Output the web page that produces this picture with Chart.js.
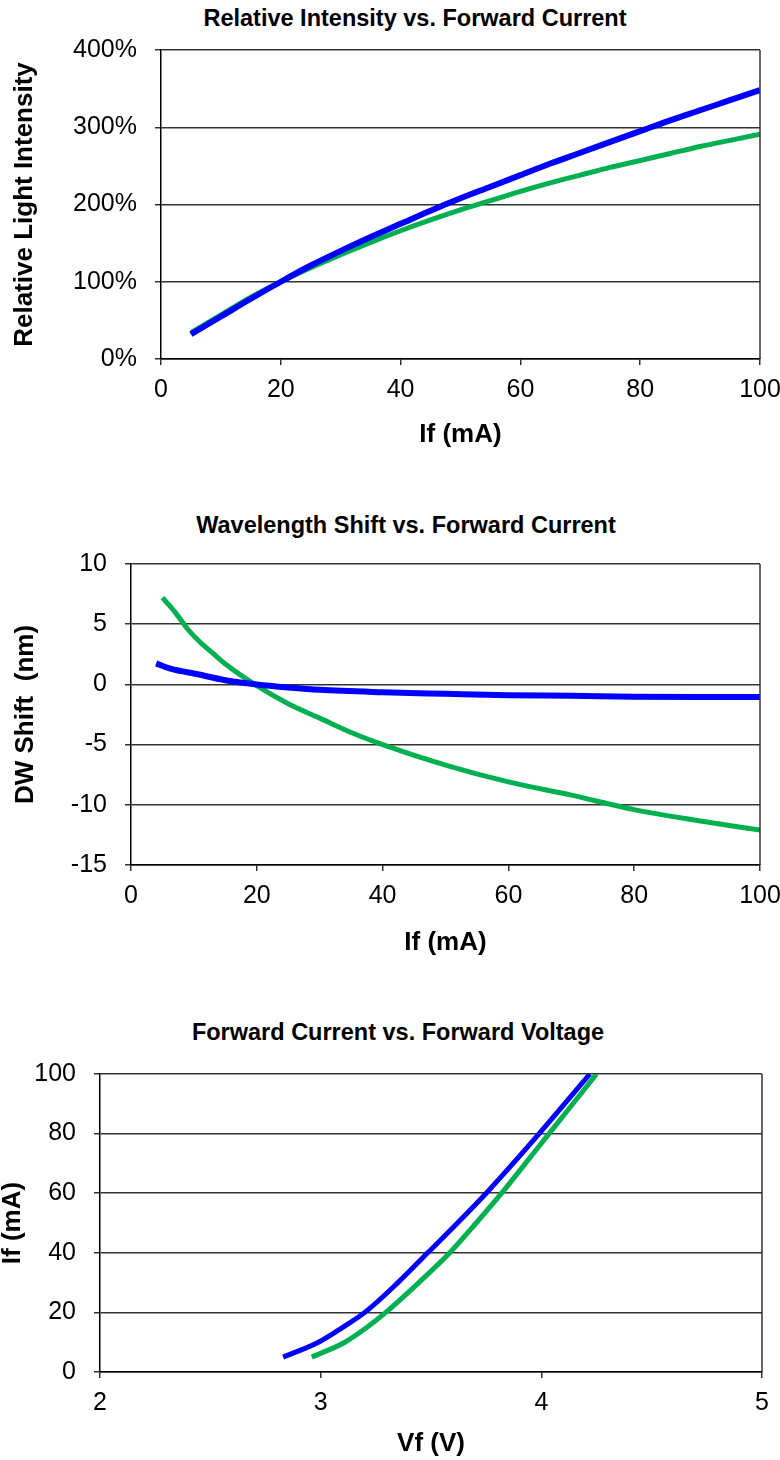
<!DOCTYPE html>
<html>
<head>
<meta charset="utf-8">
<script src="https://cdn.jsdelivr.net/npm/chart.js@4.4.1/dist/chart.umd.min.js"></script>
<style>
  body { margin: 0; background: #fff; width: 780px; height: 1460px; position: relative; overflow: hidden; font-family: 'Liberation Sans', Arial, sans-serif; }
  canvas { position: absolute; left: 0; }
  .ttl { position: absolute; font-weight: bold; font-size: 23.5px; white-space: nowrap; transform: translate(-50%, -50%); color: #000; }
</style>
</head>
<body>
<div class="ttl" style="left:415px; top:18px;">Relative Intensity vs. Forward Current</div>
<div class="ttl" style="left:406px; top:525px;">Wavelength Shift vs. Forward Current</div>
<div class="ttl" style="left:398px; top:1032px;">Forward Current vs. Forward Voltage</div>
<canvas id="c1" width="780" height="490" style="top:0px"></canvas>
<canvas id="c2" width="780" height="500" style="top:490px"></canvas>
<canvas id="c3" width="780" height="470" style="top:990px"></canvas>
<script>
/* global Chart */

// chart 1: relative intensity (%) vs If (mA)
const intensityCurrent = [5, 10, 15, 20, 25, 30, 35, 40, 45, 50, 55, 60, 65, 70, 75, 80, 85, 90, 95, 100];
const intensityBlue = [32, 55, 78, 100, 121, 140, 158, 175, 192, 208, 223, 238, 253, 267, 281, 295, 309, 322, 335, 348];
const intensityGreen = [34, 57, 80, 100, 118, 135, 151, 166, 180, 193, 205, 217, 228, 238, 248, 257, 266, 275, 283, 291];
const intensityTicks = [0, 100, 200, 300, 400];

// chart 2: DW shift (nm) vs If (mA)
const shiftCurrentBlue = [4, 6, 8, 10, 15, 20, 25, 30, 40, 50, 60, 70, 80, 90, 100];
const shiftBlue = [1.75, 1.35, 1.1, 0.9, 0.35, 0, -0.25, -0.45, -0.65, -0.78, -0.9, -0.95, -1.02, -1.05, -1.05];
const shiftCurrentGreen = [5, 7, 9, 11, 13, 15, 20, 25, 30, 35, 40, 50, 60, 70, 80, 90, 100];
const shiftGreen = [7.2, 6.0, 4.6, 3.5, 2.6, 1.7, -0.1, -1.6, -2.8, -4.0, -5.0, -6.7, -8.1, -9.2, -10.4, -11.3, -12.1];

// chart 3: If (mA) vs Vf (V)
const ivCurrent = [5, 10, 15, 20, 30, 40, 50, 60, 70, 80, 90, 100];
const ivVoltBlue = [2.83, 2.99, 3.10, 3.20, 3.35, 3.485, 3.62, 3.75, 3.872, 3.99, 4.105, 4.22];
const ivVoltGreen = [2.96, 3.11, 3.21, 3.295, 3.445, 3.585, 3.705, 3.82, 3.928, 4.035, 4.143, 4.25];

const BLUE = '#0000ff';
const GREEN = '#00b050';
const GRID = '#333333';
const FONT = "'Liberation Sans', Arial, sans-serif";

Chart.defaults.color = '#000';
Chart.defaults.font.family = FONT;

function pts(xs, ys) {
  return xs.map((x, i) => ({ x: x, y: ys[i] }));
}

// right edge of plot frame
const frameRight = {
  id: 'frameRight',
  afterDraw(chart) {
    const a = chart.chartArea;
    const ctx = chart.ctx;
    ctx.save();
    ctx.strokeStyle = GRID;
    ctx.lineWidth = 1.5;
    ctx.beginPath();
    ctx.moveTo(a.right, a.top);
    ctx.lineTo(a.right, a.bottom);
    ctx.stroke();
    ctx.restore();
  },
};

function makeChart(id, opt) {
  return new Chart(document.getElementById(id), {
    type: 'scatter',
    data: {
      datasets: [
        { data: opt.green, borderColor: GREEN, borderWidth: 5, showLine: true, pointRadius: 0, cubicInterpolationMode: 'monotone', order: 2 },
        { data: opt.blue, borderColor: BLUE, borderWidth: opt.blueWidth, showLine: true, pointRadius: 0, cubicInterpolationMode: 'monotone', order: 1 },
      ],
    },
    options: {
      responsive: false,
      animation: false,
      layout: { padding: { top: opt.top, right: opt.right, left: 0, bottom: 0 } },
      plugins: { legend: { display: false }, tooltip: { enabled: false } },
      scales: {
        x: {
          type: 'linear',
          min: opt.xMin,
          max: opt.xMax,
          ticks: { stepSize: opt.xStep, font: { size: 25 }, padding: 10, maxRotation: 0 },
          grid: { drawOnChartArea: false, drawTicks: true, tickLength: 6, color: GRID, lineWidth: 1.5 },
          border: { color: '#000', width: 1.5 },
          title: { display: true, text: opt.xTitle, font: { size: 26, weight: 'bold', lineHeight: 1 }, padding: { bottom: opt.xTitlePad, top: 0 } },
          afterFit(s) { s.height = opt.xHeight; s.paddingLeft = 0; s.paddingRight = 0; },
        },
        y: {
          type: 'linear',
          min: opt.yMin,
          max: opt.yMax,
          ticks: { stepSize: opt.yStep, font: { size: 25 }, padding: 18, callback: opt.yFmt },
          grid: { drawTicks: true, tickLength: 6, color: GRID, lineWidth: 1.5 },
          border: { color: '#000', width: 1.5 },
          title: { display: true, text: opt.yTitle, font: { size: 26, weight: 'bold', lineHeight: 1 }, padding: { top: opt.yTitlePad, bottom: 0 } },
          afterFit(s) { s.width = opt.yWidth; s.paddingTop = 0; s.paddingBottom = 0; },
        },
      },
    },
    plugins: [frameRight],
  });
}

makeChart('c1', {
  blue: pts(intensityCurrent, intensityBlue),
  green: pts(intensityCurrent, intensityGreen),
  blueWidth: 6,
  top: 50, right: 20, yWidth: 161, xHeight: 131,
  xMin: 0, xMax: 100, xStep: 20,
  yMin: intensityTicks[0], yMax: intensityTicks[intensityTicks.length - 1], yStep: 100,
  yFmt: (v) => v + '%',
  xTitle: 'If (mA)', xTitlePad: 42,
  yTitle: 'Relative Light Intensity', yTitlePad: 12,
});

makeChart('c2', {
  blue: pts(shiftCurrentBlue, shiftBlue),
  green: pts(shiftCurrentGreen, shiftGreen),
  blueWidth: 6,
  top: 74, right: 20, yWidth: 131, xHeight: 125,
  xMin: 0, xMax: 100, xStep: 20,
  yMin: -15, yMax: 10, yStep: 5,
  yFmt: (v) => v,
  xTitle: 'If (mA)', xTitlePad: 34,
  yTitle: 'DW Shift  (nm)', yTitlePad: 13,
});

makeChart('c3', {
  blue: pts(ivVoltBlue, ivCurrent),
  green: pts(ivVoltGreen, ivCurrent),
  blueWidth: 5,
  top: 84, right: 18, yWidth: 100, xHeight: 88,
  xMin: 2, xMax: 5, xStep: 1,
  yMin: 0, yMax: 100, yStep: 20,
  yFmt: (v) => v,
  xTitle: 'Vf (V)', xTitlePad: 3,
  yTitle: 'If (mA)', yTitlePad: 0,
});
</script>
</body>
</html>
